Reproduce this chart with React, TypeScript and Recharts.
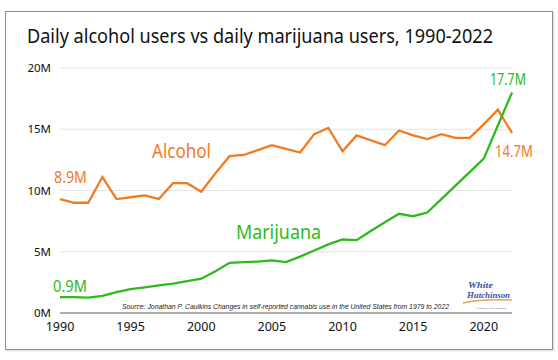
import { LineChart, Line, XAxis, YAxis, CartesianGrid } from 'recharts';

const years = [
  1990, 1991, 1992, 1993, 1994, 1995, 1996, 1997, 1998, 1999, 2000, 2001,
  2002, 2003, 2004, 2005, 2006, 2007, 2008, 2009, 2010, 2011, 2012, 2013,
  2014, 2015, 2016, 2017, 2018, 2019, 2020, 2021, 2022,
];

// millions of daily users
const alcohol = [
  9.3, 9.0, 9.0, 11.1, 9.3, 9.45, 9.6, 9.3, 10.6, 10.6, 9.9, 11.4,
  12.8, 12.9, 13.3, 13.7, 13.4, 13.1, 14.6, 15.1, 13.2, 14.5, 14.1, 13.7,
  14.9, 14.5, 14.2, 14.6, 14.3, 14.3, 15.4, 16.6, 14.7,
];

const marijuana = [
  1.3, 1.3, 1.25, 1.4, 1.7, 1.95, 2.1, 2.25, 2.4, 2.6, 2.8, 3.4,
  4.1, 4.15, 4.2, 4.3, 4.15, 4.6, 5.1, 5.6, 6.0, 5.95, 6.7, 7.4,
  8.1, 7.9, 8.2, 9.3, 10.4, 11.5, 12.6, 15.3, 18.0,
];

const xTicks = [1990, 1995, 2000, 2005, 2010, 2015, 2020];
const yTicks = [0, 5, 10, 15, 20];

const data = years.map((year, i) => ({ year, alcohol: alcohol[i], marijuana: marijuana[i] }));

const ORANGE = '#F37A1F';
const GREEN = '#2EBA1C';
const FONT = '"Noto Sans", Lato, sans-serif';

export default function App() {
  return (
    <div style={{ position: 'absolute', left: 0, top: 0, width: 558, height: 360, background: '#fff', fontFamily: FONT }}>
      <div style={{ position: 'absolute', left: 5, top: 11, width: 548, height: 339, border: '1.5px solid #8c8c8c', boxSizing: 'border-box', boxShadow: '1px 1px 2px rgba(0,0,0,0.15)' }} />
      <div style={{ position: 'absolute', left: 0, top: 0 }}>
        <LineChart width={558} height={360} data={data} margin={{ top: 68, right: 46, bottom: 17, left: 0 }}>
          <CartesianGrid horizontal vertical={false} stroke="#e4e4e4" strokeWidth={1} />
          <XAxis
            dataKey="year"
            type="number"
            domain={[1990, 2022]}
            ticks={xTicks}
            height={30}
            tickLine={false}
            tickSize={0}
            tickMargin={9}
            axisLine={{ stroke: '#9a9a9a', strokeWidth: 1.5 }}
            tick={{ fill: '#111', fontSize: 12.5, fontFamily: FONT }}
          />
          <YAxis
            domain={[0, 20]}
            ticks={yTicks}
            width={60}
            axisLine={false}
            tickLine={false}
            tickSize={0}
            tickMargin={9}
            tickFormatter={(v: number) => `${v}M`}
            tick={{ fill: '#111', fontSize: 11.5, fontFamily: FONT }}
          />
          <Line type="linear" dataKey="alcohol" stroke={ORANGE} strokeWidth={2.3} dot={false} isAnimationActive={false} />
          <Line type="linear" dataKey="marijuana" stroke={GREEN} strokeWidth={2.3} dot={false} isAnimationActive={false} />
        </LineChart>
      </div>
      <svg width={558} height={360} style={{ position: 'absolute', left: 0, top: 0, pointerEvents: 'none' }}>
        <text x={27} y={43} fontSize={19} fill="#111" fontFamily={FONT} textLength={466} lengthAdjust="spacingAndGlyphs">
          Daily alcohol users vs daily marijuana users, 1990-2022
        </text>
        <text x={54} y={183} fontSize={16} fill={ORANGE} fontFamily={FONT} textLength={33} lengthAdjust="spacingAndGlyphs">8.9M</text>
        <text x={152} y={158} fontSize={19} fill={ORANGE} fontFamily={FONT} textLength={59} lengthAdjust="spacingAndGlyphs">Alcohol</text>
        <text x={236} y={239} fontSize={19} fill={GREEN} fontFamily={FONT} textLength={85} lengthAdjust="spacingAndGlyphs">Marijuana</text>
        <text x={53} y={292} fontSize={16} fill={GREEN} fontFamily={FONT} textLength={34} lengthAdjust="spacingAndGlyphs">0.9M</text>
        <text x={490} y={85} fontSize={16} fill={GREEN} fontFamily={FONT} textLength={36} lengthAdjust="spacingAndGlyphs">17.7M</text>
        <text x={495} y={157} fontSize={16} fill={ORANGE} fontFamily={FONT} textLength={38} lengthAdjust="spacingAndGlyphs">14.7M</text>
        <text x={122} y={309} fontSize={7} fontStyle="italic" fill="#222" fontFamily='"Liberation Sans", Arial, sans-serif' textLength={327} lengthAdjust="spacingAndGlyphs">
          Source: Jonathan P. Caulkins Changes in self-reported cannabis use in the United States from 1979 to 2022
        </text>
        <text x={468} y={288} fontSize={9} fontStyle="italic" fontWeight="bold" fill="#3b4f9c" fontFamily='"Liberation Serif", serif' textLength={25} lengthAdjust="spacingAndGlyphs">White</text>
        <text x={467} y={298} fontSize={9} fontStyle="italic" fontWeight="bold" fill="#3b4f9c" fontFamily='"Liberation Serif", serif' textLength={43} lengthAdjust="spacingAndGlyphs">Hutchinson</text>
        <path d="M 463 303 Q 480 299 512 300" stroke="#e8a35c" strokeWidth={1.5} fill="none" />
        <text x={476} y={309} fontSize={2.5} fill="#5a6aa8" fontFamily={FONT}>© 2025 all rights reserved</text>
      </svg>
    </div>
  );
}
